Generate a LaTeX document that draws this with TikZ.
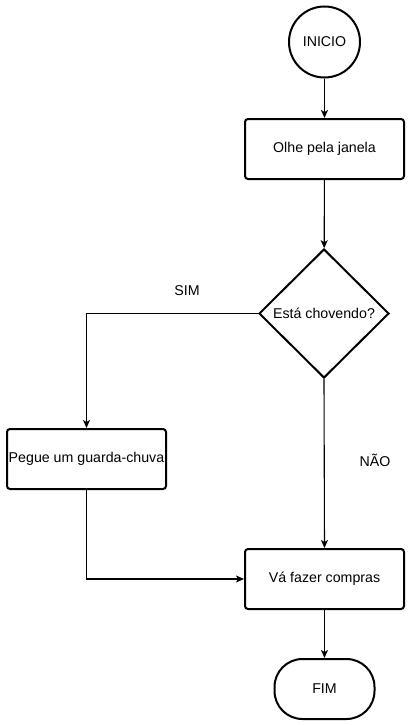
\documentclass[tikz,border=0pt]{standalone}
\usepackage{fontspec}
\setmainfont{Liberation Sans}
\usetikzlibrary{shapes.geometric,arrows.meta}
\begin{document}
\begin{tikzpicture}[x=1pt,y=-1pt,
  every node/.style={font=\fontsize{14.2}{16}\selectfont, inner sep=0pt},
  shapebox/.style={draw, line width=2pt, fill=white},
  procbox/.style={shapebox, rectangle, rounded corners=3pt, minimum width=159pt, minimum height=60pt},
  arr/.style={line width=1.1pt, -{Stealth[length=8pt,width=7pt,inset=2pt]}},
  lbl/.style={}
]
\useasboundingbox[fill=white] (0,0) rectangle (410,725);
\node[shapebox, circle, minimum size=71pt] (start) at (324.5,42) {INICIO};
\node[procbox] (olhe) at (324.5,149) {Olhe pela janela};
\node[shapebox, diamond, minimum width=130pt, minimum height=129pt] (dec) at (324,313.5) {Está chovendo?};
\node[procbox] (pegue) at (86.5,459) {Pegue um guarda-chuva};
\node[procbox] (va) at (324.5,579) {Vá fazer compras};
\node[shapebox, rectangle, rounded corners=28pt, minimum width=100pt, minimum height=60pt] (fim) at (324.5,689) {FIM};
\node[lbl] (sim) at (187,291) {SIM};
\node[lbl] (nao) at (375,460) {NÃO};
\draw[arr] (start) -- (olhe);
\draw[arr] (olhe) -- (dec);
\draw[arr] (dec.west) -| (pegue.north);
\draw[arr] (dec.south) -- (va.north);
\draw[arr] (pegue.south) |- (va.west);
\draw[arr] (va) -- (fim);
\end{tikzpicture}
\end{document}
